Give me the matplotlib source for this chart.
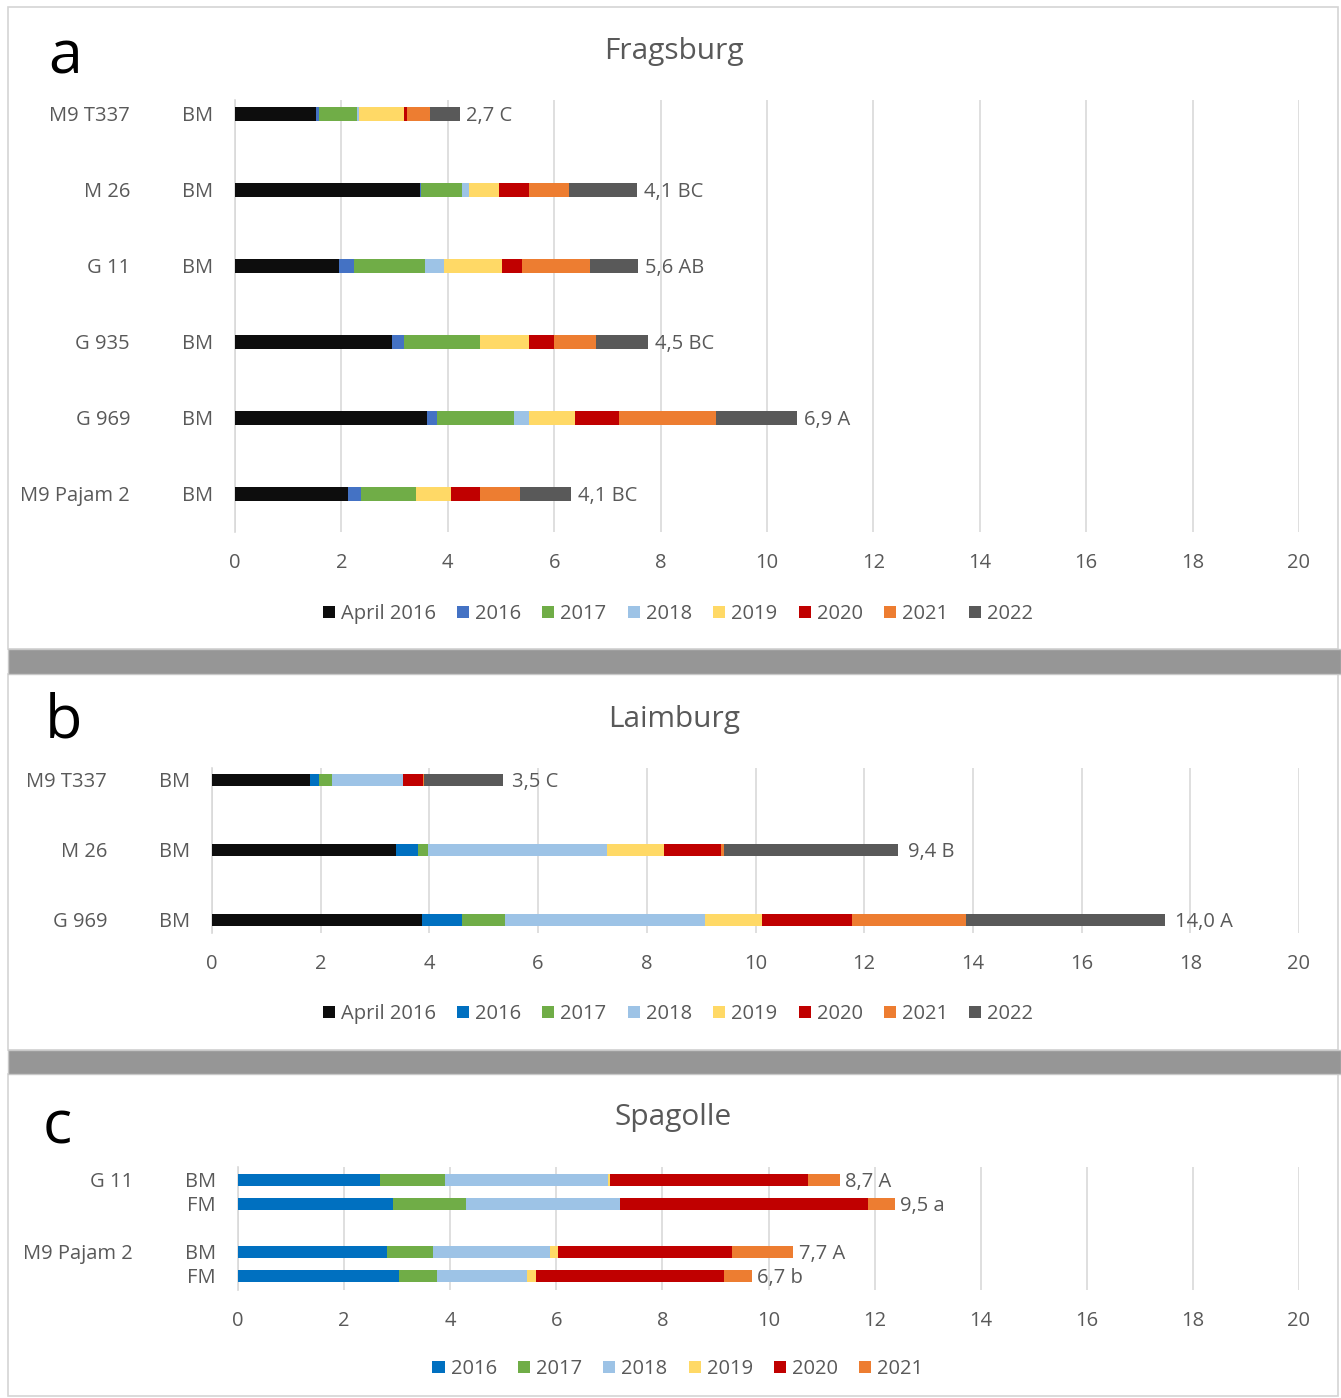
import matplotlib
matplotlib.use("Agg")
import matplotlib.pyplot as plt
import matplotlib.transforms as mtransforms
from matplotlib.patches import Rectangle, Patch
import numpy as np

plt.rcParams['font.family'] = ['Open Sans', 'DejaVu Sans']

# ---------------- data ----------------
series_a = ["April 2016", "2016", "2017", "2018", "2019", "2020", "2021", "2022"]
cultivars_a = ["M9 T337", "M 26", "G 11", "G 935", "G 969", "M9 Pajam 2"]
treat_a = ["BM", "BM", "BM", "BM", "BM", "BM"]
april2016_a = [1.52, 3.48, 1.96, 2.96, 3.61, 2.12]
y2016_a = [0.05, 0.02, 0.28, 0.22, 0.18, 0.24]
y2017_a = [0.72, 0.76, 1.33, 1.43, 1.45, 1.05]
y2018_a = [0.05, 0.14, 0.36, 0.00, 0.28, 0.00]
y2019_a = [0.84, 0.57, 1.08, 0.91, 0.88, 0.65]
y2020_a = [0.06, 0.56, 0.38, 0.47, 0.82, 0.54]
y2021_a = [0.43, 0.74, 1.29, 0.79, 1.83, 0.75]
y2022_a = [0.55, 1.29, 0.89, 0.98, 1.51, 0.97]
labels_a = ["2,7 C", "4,1 BC", "5,6 AB", "4,5 BC", "6,9 A", "4,1 BC"]

series_b = ["April 2016", "2016", "2017", "2018", "2019", "2020", "2021", "2022"]
cultivars_b = ["M9 T337", "M 26", "G 969"]
treat_b = ["BM", "BM", "BM"]
april2016_b = [1.80, 3.39, 3.86]
y2016_b = [0.17, 0.40, 0.74]
y2017_b = [0.23, 0.19, 0.80]
y2018_b = [1.31, 3.29, 3.67]
y2019_b = [0.00, 1.05, 1.05]
y2020_b = [0.37, 1.05, 1.65]
y2021_b = [0.02, 0.05, 2.11]
y2022_b = [1.45, 3.21, 3.66]
labels_b = ["3,5 C", "9,4 B", "14,0 A"]

series_c = ["2016", "2017", "2018", "2019", "2020", "2021"]
cultivars_c = ["G 11", "", "M9 Pajam 2", ""]
treat_c = ["BM", "FM", "BM", "FM"]
y2016_c = [2.68, 2.92, 2.81, 3.03]
y2017_c = [1.23, 1.37, 0.87, 0.72]
y2018_c = [3.06, 2.92, 2.20, 1.70]
y2019_c = [0.04, 0.00, 0.15, 0.16]
y2020_c = [3.74, 4.66, 3.29, 3.56]
y2021_c = [0.59, 0.51, 1.15, 0.51]
labels_c = ["8,7 A", "9,5 a", "7,7 A", "6,7 b"]

xticks = [0, 2, 4, 6, 8, 10, 12, 14, 16, 18, 20]

# ---------------- styling ----------------
BLACK = "#0d0d0d"
BLUE_A = "#4472C4"
BLUE_BC = "#0070C0"
GREEN = "#70AD47"
LBLUE = "#9DC3E6"
YELLOW = "#FFD966"
RED = "#C00000"
ORANGE = "#ED7D31"
GRAY = "#595959"
TXT = "#595959"
GRID = "#D9D9D9"

colors_a = [BLACK, BLUE_A, GREEN, LBLUE, YELLOW, RED, ORANGE, GRAY]
colors_b = [BLACK, BLUE_BC, GREEN, LBLUE, YELLOW, RED, ORANGE, GRAY]
colors_c = [BLUE_BC, GREEN, LBLUE, YELLOW, RED, ORANGE]

FS = 14.5

W, H = 1341, 1398
fig = plt.figure(figsize=(W / 100, H / 100), dpi=100)
fig.patch.set_facecolor("white")

# small downward nudge for text (2 px)
DOWN = mtransforms.ScaledTranslation(0, -2 / 100, fig.dpi_scale_trans)


def fx(px):
    return px / W


def fy(py):
    return 1 - py / H


# panel frames and separators
for (top, bot) in [(7, 649), (674, 1050), (1074, 1396)]:
    fig.patches.append(Rectangle((fx(8), fy(bot)), fx(1338) - fx(8), fy(top) - fy(bot),
                                 transform=fig.transFigure, facecolor="white",
                                 edgecolor="#D4D4D4", linewidth=1.2, zorder=-2))
for (top, bot) in [(649, 674), (1050, 1074)]:
    fig.patches.append(Rectangle((fx(8), fy(bot)), 1 - fx(8), fy(top) - fy(bot),
                                 transform=fig.transFigure, facecolor="#969696",
                                 edgecolor="#C8C8C8", linewidth=1.0, zorder=-1))


def make_axes(left, right, top, bot):
    ax = fig.add_axes([fx(left), fy(bot), fx(right) - fx(left), fy(top) - fy(bot)])
    ax.set_zorder(2)
    ax.set_facecolor("none")
    for s in ["top", "right", "bottom"]:
        ax.spines[s].set_visible(False)
    ax.spines["left"].set_color(GRID)
    ax.spines["left"].set_linewidth(1.2)
    ax.set_xlim(0, 20)
    ax.set_xticks(xticks)
    ax.set_xticklabels([str(t) for t in xticks])
    ax.tick_params(axis="x", length=0, labelsize=FS, colors=TXT, pad=15)
    ax.tick_params(axis="y", length=0, labelleft=False)
    ax.xaxis.grid(True, color=GRID, linewidth=1.2)
    ax.set_axisbelow(True)
    return ax


def draw_panel(ax, ypos, series_vals, colors, labels, height, label_off):
    left = np.zeros(len(ypos))
    for vals, col in zip(series_vals, colors):
        v = np.array(vals)
        ax.barh(ypos, v, left=left, height=height, color=col, edgecolor="none", zorder=3)
        left = left + v
    for y, tot, lab in zip(ypos, left, labels):
        ax.annotate(lab, (tot, y), xytext=(label_off, -1.5), textcoords="offset points",
                    va="center", ha="left", fontsize=FS, color=TXT)


def row_labels(ax, ypos, names, treats, name_right, treat_center):
    tr = mtransforms.blended_transform_factory(fig.transFigure, ax.transData) + DOWN
    for y, n, t in zip(ypos, names, treats):
        if n:
            ax.text(fx(name_right), y, n, transform=tr, ha="right", va="center",
                    fontsize=FS, color=TXT)
        ax.text(fx(treat_center), y, t, transform=tr, ha="center", va="center",
                fontsize=FS, color=TXT)


# ---------------- panel a ----------------
axa = make_axes(235, 1299, 100, 532)
ya = np.arange(len(cultivars_a))
draw_panel(axa, ya, [april2016_a, y2016_a, y2017_a, y2018_a, y2019_a, y2020_a, y2021_a, y2022_a],
           colors_a, labels_a, 0.175, 5)
axa.set_ylim(5.5, -0.184)
row_labels(axa, ya, cultivars_a, treat_a, 130, 198)

# ---------------- panel b ----------------
axb = make_axes(212, 1299, 768, 933)
yb = np.arange(len(cultivars_b))
draw_panel(axb, yb, [april2016_b, y2016_b, y2017_b, y2018_b, y2019_b, y2020_b, y2021_b, y2022_b],
           colors_b, labels_b, 0.175, 7)
axb.set_ylim(2 + 13 / 70, -12 / 70)
row_labels(axb, yb, cultivars_b, treat_b, 107, 175)

# ---------------- panel c ----------------
axc = make_axes(238, 1299, 1167, 1290)
yc = np.array([0, 1, 3, 4])
draw_panel(axc, yc, [y2016_c, y2017_c, y2018_c, y2019_c, y2020_c, y2021_c],
           colors_c, labels_c, 0.5, 4)
axc.set_ylim(4 + 14 / 24, -13 / 24)
row_labels(axc, [0, 1, 3, 4], cultivars_c, treat_c, 133, 201)

# ---------------- titles, letters, legends ----------------
for txt, xc, yc_ in [("Fragsburg", 674, 52), ("Laimburg", 674, 719), ("Spagolle", 673, 1118)]:
    fig.text(fx(xc), fy(yc_), txt, ha="center", va="center", fontsize=21.5, color=TXT)

for txt, xc, base in [("a", 65, 73), ("b", 63, 738), ("c", 57, 1143)]:
    fig.text(fx(xc), fy(base), txt, ha="center", va="baseline", fontsize=44, color="black")


def legend(series, colors, yc_):
    handles = [Patch(facecolor=c, edgecolor="none", label=s) for s, c in zip(series, colors)]
    fig.legend(handles=handles, loc="center", bbox_to_anchor=(fx(678), fy(yc_)),
               ncol=len(series), frameon=False, fontsize=FS, labelcolor=TXT,
               handlelength=0.6, handleheight=0.6, handletextpad=0.3,
               columnspacing=1.05, borderpad=0)


legend(series_a, colors_a, 614)
legend(series_b, colors_b, 1014)
legend(series_c, colors_c, 1369)

fig.savefig("out.png", dpi=100, facecolor="white")
